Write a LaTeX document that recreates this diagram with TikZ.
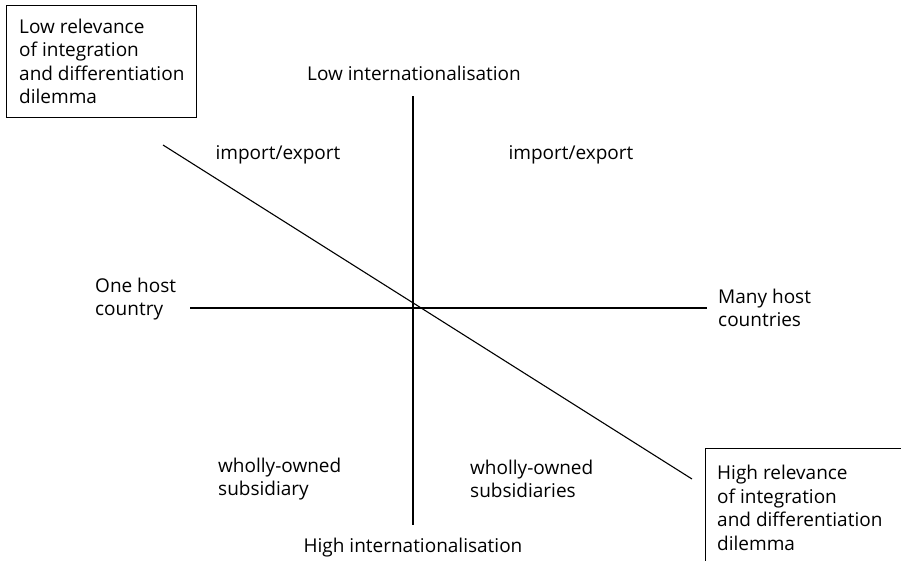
\documentclass[tikz,border=0pt]{standalone}
\usepackage{fontspec}
\setmainfont{Open Sans}
\begin{document}
\begin{tikzpicture}[x=1pt,y=-1pt,
  lbl/.style={font=\fontsize{19}{23.5}\selectfont, inner sep=0pt, align=left},
  framebox/.style={draw, line width=1pt, inner sep=0pt},
  axis/.style={line width=1.1pt}]
\useasboundingbox (0,0) rectangle (901,560);
% axes
\coordinate (vtop) at (413,96);
\coordinate (vbot) at (413,525);
\coordinate (hleft) at (190,308);
\coordinate (hright) at (707,308);
\coordinate (dstart) at (163,145);
\coordinate (dend) at (692,479);
\draw[axis] (vtop) -- (vbot);
\draw[axis] (hleft) -- (hright);
\draw[axis] (dstart) -- (dend);
% axis labels
\node[lbl] (lowint) at (414,73) {Low internationalisation};
\node[lbl] (highint) at (413,548) {High internationalisation};
\node[lbl, anchor=west] (onehost) at (95,299) {One host\\country};
\node[lbl, anchor=west] (manyhost) at (718,308) {Many host\\countries};
% quadrant labels
\node[lbl] (ie1) at (278,155) {import/export};
\node[lbl] (ie2) at (571,155) {import/export};
\node[lbl, anchor=west] (wos1) at (218,479) {wholly-owned\\subsidiary};
\node[lbl, anchor=west] (wos2) at (470,479) {wholly-owned\\subsidiaries};
% framed annotations
\node[framebox, anchor=north west, minimum width=190pt, minimum height=112pt]
  (lowrel) at (6,5) {};
\node[lbl, anchor=west] (lowreltext) at ([xshift=13pt,yshift=0pt]lowrel.west)
  {Low relevance\\of integration\\and differentiation\\dilemma};
\node[framebox, anchor=north west, minimum width=210pt, minimum height=122pt]
  (highrel) at (705,448) {};
\node[lbl, anchor=north west] (highreltext) at ([xshift=12pt,yshift=-17pt]highrel.north west)
  {High relevance\\of integration\\and differentiation\\dilemma};
\end{tikzpicture}
\end{document}
